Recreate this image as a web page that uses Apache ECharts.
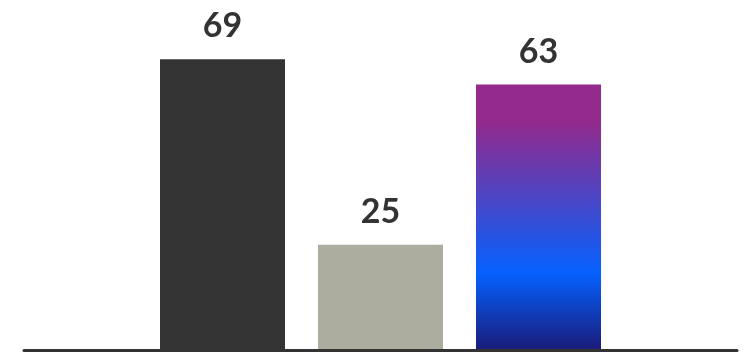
<!DOCTYPE html>
<html>
<head>
<meta charset="utf-8">
<script src="https://cdn.jsdelivr.net/npm/echarts@6/dist/echarts.min.js"></script>
<style>html,body{margin:0;padding:0;background:#fff}#c{width:748px;height:352px}</style>
</head>
<body>
<div id="c"></div>
<script>
var categories = [''];
var seriesNames = ['A', 'B', 'C'];
var values = [69, 25, 63];

var colors = [
  '#333333',
  '#acad9f',
  {
    type: 'linear', x: 0, y: 0, x2: 0, y2: 1,
    colorStops: [
      { offset: 0, color: '#932a8c' },
      { offset: 0.14, color: '#932a8c' },
      { offset: 0.71, color: '#0561ff' },
      { offset: 1, color: '#1a1b78' }
    ]
  }
];

var chart = echarts.init(document.getElementById('c'));
chart.setOption({
  animation: false,
  grid: { left: 24, right: 11, top: 13, bottom: 2, containLabel: false },
  xAxis: {
    type: 'category',
    data: categories,
    z: 5,
    axisLine: { show: true, lineStyle: { color: '#333333', width: 3 } },
    axisTick: { show: false },
    axisLabel: { show: false },
    splitLine: { show: false }
  },
  yAxis: {
    type: 'value',
    min: 0,
    max: 80,
    show: false,
    splitLine: { show: false }
  },
  series: seriesNames.map(function (name, i) {
    return {
      name: name,
      type: 'bar',
      data: [values[i]],
      barWidth: 125,
      barGap: '26.4%',
      itemStyle: { color: colors[i] },
      label: {
        show: true,
        position: 'top',
        distance: 16,
        color: '#333333',
        fontFamily: 'Lato',
        fontWeight: 'bold',
        fontSize: 34
      }
    };
  })
});
</script>
</body>
</html>
